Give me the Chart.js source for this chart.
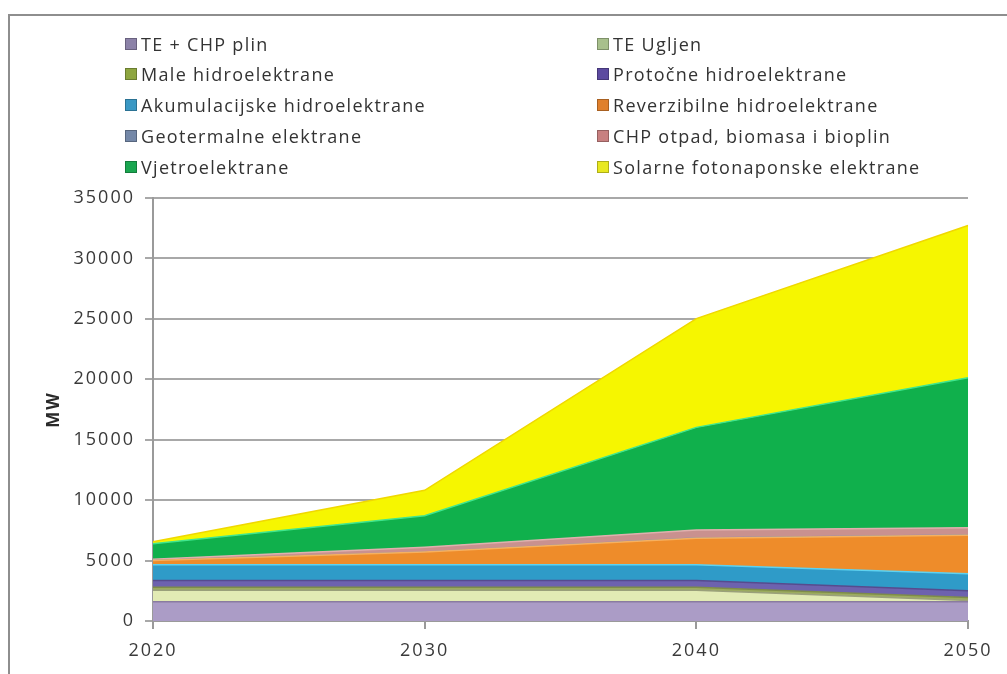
<!DOCTYPE html>
<html>
<head>
<meta charset="utf-8">
<script src="https://cdn.jsdelivr.net/npm/chart.js@4"></script>
<style>
  html, body { margin: 0; padding: 0; background: #fff; }
  #wrap { position: relative; width: 1007px; height: 674px; overflow: hidden; }
  #frame { position: absolute; left: 8px; top: 14px; width: 1100px; height: 800px;
           border-left: 2px solid #8e8e8e; border-top: 2px solid #8e8e8e; }
  #chart { position: absolute; left: 0; top: 0; }
  .lg { position: absolute; font-family: "Open Sans", "Liberation Sans", sans-serif; font-size: 18px;
        letter-spacing: 1.3px; color: #333; white-space: nowrap; line-height: 20px; }
  .lg i { display: inline-block; width: 10px; height: 10px; margin-right: 4px;
          vertical-align: 1px; border: 1px solid rgba(0,0,0,0.25); }
</style>
</head>
<body>
<div id="wrap">
  <div id="frame"></div>
  <canvas id="chart" width="1007" height="674"></canvas>
  <div id="legend"></div>
</div>
<script>
  // ── Data (MW, bottom layer first) ──
  var years = ['2020', '2030', '2040', '2050'];

  var tePlin     = [1600, 1600, 1600, 1600];
  var teUgljen   = [950, 950, 950, 100];
  var maleHidro  = [250, 250, 250, 250];
  var protocne   = [550, 550, 550, 550];
  var akumul     = [1300, 1300, 1300, 1400];
  var reverz     = [350, 1050, 2200, 3200];
  var geoterm    = [0, 10, 20, 20];
  var chpOtpad   = [100, 400, 650, 600];
  var vjetro     = [1300, 2600, 8500, 12400];
  var solar      = [150, 2100, 9000, 12600];

  var yTicks = [0, 5000, 10000, 15000, 20000, 25000, 30000, 35000];

  var SERIES = [
    { label: 'TE + CHP plin',                 data: tePlin,    fill: '#ab9cc6', line: '#8a7ba0' },
    { label: 'TE Ugljen',                     data: teUgljen,  fill: '#e2ebb4', line: '#9aa07a' },
    { label: 'Male hidroelektrane',           data: maleHidro, fill: '#9bab5e', line: '#7e8c4a' },
    { label: 'Protočne hidroelektrane',       data: protocne,  fill: '#6d62ae', line: '#564b8e' },
    { label: 'Akumulacijske hidroelektrane',  data: akumul,    fill: '#2f9bc8', line: '#5ed2f0' },
    { label: 'Reverzibilne hidroelektrane',   data: reverz,    fill: '#ee8c2a', line: '#f6b060' },
    { label: 'Geotermalne elektrane',         data: geoterm,   fill: '#7f95b5', line: '#7f95b5' },
    { label: 'CHP otpad,  biomasa i bioplin', data: chpOtpad,  fill: '#c9918f', line: '#e0b0ae' },
    { label: 'Vjetroelektrane',               data: vjetro,    fill: '#10b04c', line: '#3fe68e' },
    { label: 'Solarne fotonaponske  elektrane', data: solar,   fill: '#f6f600', line: '#f0d800' }
  ];

  var LEGEND_SWATCH = ['#8c82a8', '#a8c08c', '#8ea640', '#5c4aa0', '#3a98c4',
                       '#e0802c', '#7488a8', '#c88080', '#1aa650', '#e8e820'];

  // ── Legend (two columns, row-major) ──
  var legendEl = document.getElementById('legend');
  var rowsY = [34, 64, 95, 126, 157];
  for (var i = 0; i < SERIES.length; i++) {
    var div = document.createElement('div');
    div.className = 'lg';
    div.style.left = (i % 2 === 0 ? 125 : 597) + 'px';
    div.style.top = rowsY[Math.floor(i / 2)] + 'px';
    div.innerHTML = '<i style="background:' + LEGEND_SWATCH[i] + '"></i>' + SERIES[i].label;
    legendEl.appendChild(div);
  }

  // ── Datasets ──
  var datasets = [];
  for (var s = 0; s < SERIES.length; s++) {
    datasets.push({
      label: SERIES[s].label,
      data: SERIES[s].data,
      backgroundColor: SERIES[s].fill,
      borderColor: SERIES[s].line,
      borderWidth: 1.5,
      pointRadius: 0,
      tension: 0,
      fill: s === 0 ? 'origin' : '-1'
    });
  }

  var FONT = { family: '"Open Sans", "Liberation Sans", sans-serif', size: 18 };

  // wider glyph spacing, like the stretched original
  var spacingPlugin = {
    id: 'spacing',
    beforeDraw: function(chart) { chart.ctx.letterSpacing = '2px'; }
  };

  new Chart(document.getElementById('chart'), {
    type: 'line',
    data: { labels: years, datasets: datasets },
    plugins: [spacingPlugin],
    options: {
      responsive: false,
      animation: false,
      layout: { padding: { top: 198, right: 39, bottom: 0, left: 0 } },
      plugins: { legend: { display: false }, tooltip: { enabled: false } },
      scales: {
        x: {
          offset: false,
          grid: { drawOnChartArea: false, color: '#9a9a9a', lineWidth: 2, tickLength: 8 },
          border: { color: '#9a9a9a', width: 2 },
          ticks: { color: '#3a3a3a', font: FONT, padding: 11, maxRotation: 0 },
          afterFit: function(scale) { scale.height = 53; }
        },
        y: {
          stacked: true,
          min: 0,
          max: 35000,
          afterBuildTicks: function(scale) {
            scale.ticks = yTicks.map(function(v) { return { value: v }; });
          },
          grid: { color: '#a8a8a8', lineWidth: 2, tickLength: 8 },
          border: { color: '#9a9a9a', width: 2 },
          ticks: {
            color: '#3a3a3a', font: FONT, padding: 10,
            callback: function(val) { return String(val); }
          },
          title: { display: true, text: 'MW', color: '#2a2a2a',
                   font: { family: FONT.family, size: 17, weight: 'bold' },
                   padding: { top: 44, bottom: 0 } },
          afterFit: function(scale) { scale.width = 153; }
        }
      }
    }
  });
</script>
</body>
</html>
